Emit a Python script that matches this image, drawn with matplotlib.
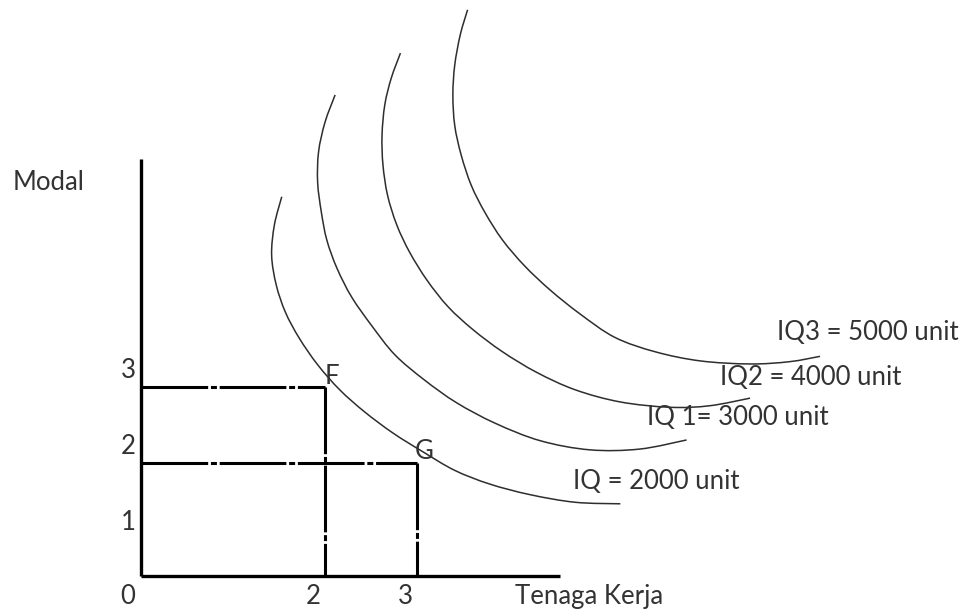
import numpy as np
import matplotlib
matplotlib.use("Agg")
import matplotlib.pyplot as plt
from matplotlib.path import Path
from matplotlib.patches import PathPatch

plt.rcParams['font.family'] = ['Lato', 'DejaVu Sans']
plt.rcParams['lines.scale_dashes'] = False

# ---- data (labor units on x, capital units on y) ----
iq0_labor = [1.53, 1.45, 1.42, 1.47, 1.57, 1.72, 1.92, 2.16, 2.43, 2.74, 3.07, 3.41, 3.79, 4.23, 4.72, 5.21]
iq0_capital = [4.99, 4.62, 4.22, 3.83, 3.47, 3.13, 2.78, 2.45, 2.16, 1.88, 1.63, 1.39, 1.21, 1.07, 0.97, 0.95]

iq1_labor = [2.11, 2.00, 1.93, 1.92, 1.96, 2.02, 2.13, 2.29, 2.51, 2.76, 3.08, 3.43, 3.85, 4.34, 4.88, 5.42, 5.93]
iq1_capital = [6.33, 5.97, 5.58, 5.18, 4.79, 4.42, 4.05, 3.67, 3.29, 2.91, 2.58, 2.28, 2.01, 1.78, 1.66, 1.67, 1.79]

iq2_labor = [2.82, 2.72, 2.65, 2.62, 2.63, 2.68, 2.78, 2.92, 3.11, 3.34, 3.61, 3.93, 4.30, 4.72, 5.21, 5.75, 6.18, 6.62]
iq2_capital = [6.88, 6.55, 6.20, 5.80, 5.41, 5.01, 4.62, 4.26, 3.89, 3.54, 3.24, 2.95, 2.68, 2.45, 2.29, 2.22, 2.24, 2.34]

iq3_labor = [3.55, 3.47, 3.41, 3.39, 3.41, 3.48, 3.59, 3.74, 3.93, 4.17, 4.45, 4.77, 5.15, 5.59, 6.08, 6.62, 7.05, 7.38]
iq3_capital = [7.45, 7.12, 6.72, 6.33, 5.93, 5.54, 5.14, 4.78, 4.42, 4.08, 3.76, 3.45, 3.14, 2.95, 2.83, 2.79, 2.82, 2.89]

iq_labels = ["IQ = 2000 unit", "IQ 1= 3000 unit", "IQ2 = 4000 unit", "IQ3 = 5000 unit"]
iq_label_x = [4.70, 5.50, 6.29, 6.91]
iq_label_y = [1.24, 2.08, 2.61, 3.21]

# points F and G (labor, capital level)
point_names = ["F", "G"]
point_labor = [2.0, 3.0]
point_capital = [2.49, 1.49]

x_tick_labels = ["0", "2", "3"]
x_tick_pos = [-0.15, 1.87, 2.87]
y_tick_labels = ["1", "2", "3"]
y_tick_pos = [0.70, 1.70, 2.71]

x_axis_end = 4.55
y_axis_end = 5.49

# ---- figure ----
fig = plt.figure(figsize=(9.59, 6.10), dpi=100)
ax = fig.add_axes([0, 0, 1, 1])
ax.set_xlim(-141 / 92, 818 / 92)
ax.set_ylim(-34 / 76, 576 / 76)
ax.axis('off')

text_color = '#333333'
curve_color = '#2e2e2e'


def smooth_path(xs, ys):
    pts = np.column_stack([xs, ys])
    n = len(pts)
    verts = [pts[0]]
    codes = [Path.MOVETO]
    for i in range(n - 1):
        p0 = pts[i - 1] if i > 0 else pts[i]
        p1 = pts[i]
        p2 = pts[i + 1]
        p3 = pts[i + 2] if i + 2 < n else pts[i + 1]
        c1 = p1 + (p2 - p0) / 6.0
        c2 = p2 - (p3 - p1) / 6.0
        verts += [c1, c2, p2]
        codes += [Path.CURVE4] * 3
    return Path(verts, codes)


for xs, ys in [(iq0_labor, iq0_capital), (iq1_labor, iq1_capital),
               (iq2_labor, iq2_capital), (iq3_labor, iq3_capital)]:
    ax.add_patch(PathPatch(smooth_path(xs, ys), facecolor='none',
                           edgecolor=curve_color, lw=1.1))

# axes lines
ax.plot([0, 0], [0, y_axis_end], color='black', lw=2.4, solid_capstyle='butt')
ax.plot([0, x_axis_end], [0, 0], color='black', lw=2.4, solid_capstyle='butt')

# dashed guide lines
dash = (0, (48, 2.0, 4.3, 2.0))
for lx, ky in zip(point_labor, point_capital):
    ax.plot([0, lx], [ky, ky], color='black', lw=2.2, linestyle=dash, solid_capstyle='butt')
    ax.plot([lx, lx], [ky, 0], color='black', lw=2.2, linestyle=dash, solid_capstyle='butt')

fs = 18.5
# point labels
ax.text(point_labor[0] + 0.07, point_capital[0] + 0.14, point_names[0], fontsize=fs,
        color=text_color, ha='center', va='center')
ax.text(point_labor[1] + 0.08, point_capital[1] + 0.15, point_names[1], fontsize=fs,
        color=text_color, ha='center', va='center')

# tick labels
for lab, xp in zip(x_tick_labels, x_tick_pos):
    ax.text(xp, -0.276, lab, fontsize=fs, color=text_color, ha='center', va='center')
for lab, yp in zip(y_tick_labels, y_tick_pos):
    ax.text(-0.14, yp, lab, fontsize=fs, color=text_color, ha='center', va='center')

# axis titles
ax.text(-1.40, 5.18, "Modal", fontsize=fs, color=text_color, ha='left', va='center')
ax.text(4.065, -0.276, "Tenaga Kerja", fontsize=fs, color=text_color, ha='left', va='center')

# isoquant labels
for lab, xp, yp in zip(iq_labels, iq_label_x, iq_label_y):
    ax.text(xp, yp, lab, fontsize=fs, color=text_color, ha='left', va='center')

fig.savefig("out.png", dpi=100)
